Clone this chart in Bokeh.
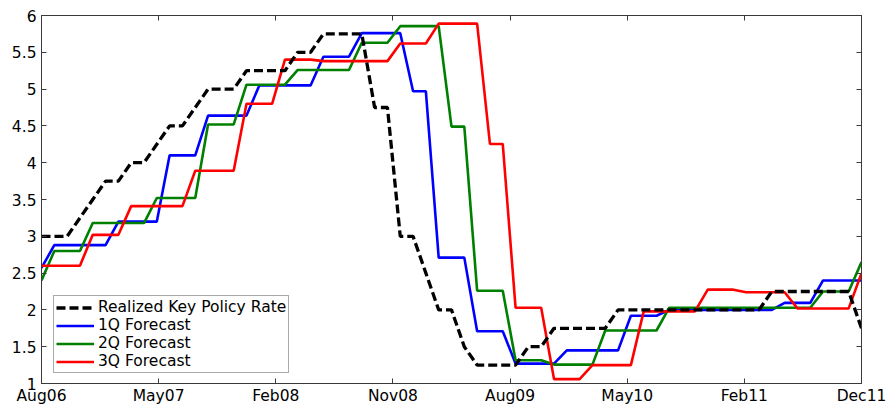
from bokeh.plotting import figure
from bokeh.models import (Range1d, FixedTicker, LinearAxis, CustomJSTickFormatter,
                          Legend, LegendItem, ColumnDataSource)
from bokeh.embed import file_html
from bokeh.resources import INLINE

# ---- data (monthly observations, Aug06 .. Dec11) ----
month_index = list(range(65))

realized = [3.0, 3.0, 3.0, 3.25, 3.5, 3.75, 3.75, 4.0, 4.0, 4.25,
            4.5, 4.5, 4.75, 5.0, 5.0, 5.0, 5.25, 5.25, 5.25, 5.25,
            5.5, 5.5, 5.75, 5.75, 5.75, 5.75, 4.75, 4.75, 3.0, 3.0,
            2.5, 2.0, 2.0, 1.5, 1.25, 1.25, 1.25, 1.25, 1.5, 1.5,
            1.75, 1.75, 1.75, 1.75, 1.75, 2.0, 2.0, 2.0, 2.0, 2.0,
            2.0, 2.0, 2.0, 2.0, 2.0, 2.0, 2.0, 2.25, 2.25, 2.25,
            2.25, 2.25, 2.25, 2.25, 1.75]

forecast_1q = [2.57, 2.88, 2.88, 2.88, 2.88, 2.88, 3.2, 3.2, 3.2, 3.2,
               4.1, 4.1, 4.1, 4.64, 4.64, 4.64, 4.64, 5.05, 5.05, 5.05,
               5.05, 5.05, 5.44, 5.44, 5.44, 5.76, 5.76, 5.76, 5.76, 4.97,
               4.97, 2.71, 2.71, 2.71, 1.71, 1.71, 1.71, 1.27, 1.27, 1.27,
               1.27, 1.45, 1.45, 1.45, 1.45, 1.45, 1.92, 1.92, 1.92, 2.0,
               2.0, 2.0, 2.0, 2.0, 2.0, 2.0, 2.0, 2.0, 2.095, 2.095,
               2.095, 2.4, 2.4, 2.4, 2.4]

forecast_2q = [2.4, 2.8, 2.8, 2.8, 3.18, 3.18, 3.18, 3.18, 3.18, 3.52,
               3.52, 3.52, 3.52, 4.52, 4.52, 4.52, 5.06, 5.06, 5.06, 5.06,
               5.26, 5.26, 5.26, 5.26, 5.26, 5.63, 5.63, 5.63, 5.855, 5.855,
               5.855, 5.855, 4.49, 4.49, 2.26, 2.26, 2.26, 1.315, 1.315, 1.315,
               1.257, 1.257, 1.257, 1.257, 1.72, 1.72, 1.72, 1.72, 1.72, 2.03,
               2.03, 2.03, 2.03, 2.03, 2.03, 2.03, 2.03, 2.03, 2.03, 2.03,
               2.03, 2.25, 2.25, 2.25, 2.65]

forecast_3q = [2.6, 2.6, 2.6, 2.6, 3.02, 3.02, 3.02, 3.41, 3.41, 3.41,
               3.41, 3.41, 3.89, 3.89, 3.89, 3.89, 4.8, 4.8, 4.8, 5.4,
               5.4, 5.4, 5.38, 5.38, 5.38, 5.38, 5.38, 5.38, 5.62, 5.62,
               5.62, 5.89, 5.89, 5.89, 5.89, 4.255, 4.255, 2.03, 2.03, 2.03,
               1.06, 1.06, 1.06, 1.25, 1.25, 1.25, 1.25, 1.98, 1.98, 1.98,
               1.98, 1.98, 2.275, 2.275, 2.275, 2.24, 2.24, 2.24, 2.24, 2.02,
               2.02, 2.02, 2.02, 2.02, 2.5]

series_labels = ["Realized Key Policy Rate", "1Q Forecast", "2Q Forecast", "3Q Forecast"]
x_tick_labels = ["Aug06", "May07", "Feb08", "Nov08", "Aug09", "May10", "Feb11", "Dec11"]
y_ticks = [1, 1.5, 2, 2.5, 3, 3.5, 4, 4.5, 5, 5.5, 6]

# ---- figure ----
FONT = "DejaVu Sans"
FSIZE = "15.5px"
AX_COLOR = "#3a3a3a"
n_last = month_index[-1]
x_ticks = [n_last * k / (len(x_tick_labels) - 1) for k in range(len(x_tick_labels))]

p = figure(width=887, height=407,
           x_range=Range1d(0, n_last), y_range=Range1d(1, 6),
           output_backend="svg", toolbar_location=None,
           x_axis_location=None, y_axis_location=None,
           min_border_left=41, min_border_top=15, min_border_right=26, min_border_bottom=22)
p.xgrid.visible = False
p.ygrid.visible = False
p.background_fill_color = "white"
p.border_fill_color = "white"
p.outline_line_color = AX_COLOR
p.outline_line_width = 1

xfmt = CustomJSTickFormatter(args=dict(labels=x_tick_labels, pos=x_ticks), code="""
    let best = 0, bd = 1e9;
    for (let i = 0; i < pos.length; i++) { const d = Math.abs(pos[i] - tick); if (d < bd) { bd = d; best = i; } }
    return labels[best];
""")
yfmt = CustomJSTickFormatter(code="return String(tick);")


def style_axis(ax, show_labels):
    ax.axis_line_color = AX_COLOR
    ax.major_tick_line_color = AX_COLOR
    ax.major_tick_in = 5
    ax.major_tick_out = 0
    ax.minor_tick_line_color = None
    ax.major_label_text_font = FONT
    ax.major_label_text_color = "black"
    if show_labels:
        ax.major_label_text_font_size = FSIZE
    else:
        ax.major_label_text_font_size = "1px"
        ax.major_label_text_color = None
        ax.major_label_standoff = 0


xb = LinearAxis(ticker=FixedTicker(ticks=x_ticks), formatter=xfmt)
style_axis(xb, True)
xb.major_label_standoff = 3
p.add_layout(xb, "below")

xt = LinearAxis(ticker=FixedTicker(ticks=x_ticks), formatter=xfmt)
style_axis(xt, False)
p.add_layout(xt, "above")

yl = LinearAxis(ticker=FixedTicker(ticks=y_ticks), formatter=yfmt)
style_axis(yl, True)
yl.major_label_standoff = 5
p.add_layout(yl, "left")

yr = LinearAxis(ticker=FixedTicker(ticks=y_ticks), formatter=yfmt)
style_axis(yr, False)
p.add_layout(yr, "right")

src = ColumnDataSource(dict(x=month_index, realized=realized,
                            f1=forecast_1q, f2=forecast_2q, f3=forecast_3q))

r1 = p.line("x", "f1", source=src, line_color="#0000FF", line_width=2.6)
r2 = p.line("x", "f2", source=src, line_color="#008000", line_width=2.6)
r3 = p.line("x", "f3", source=src, line_color="#FF0000", line_width=2.6)
r0 = p.line("x", "realized", source=src, line_color="black", line_width=3.3,
            line_dash="9 4")

legend = Legend(items=[LegendItem(label=series_labels[0], renderers=[r0]),
                       LegendItem(label=series_labels[1], renderers=[r1]),
                       LegendItem(label=series_labels[2], renderers=[r2]),
                       LegendItem(label=series_labels[3], renderers=[r3])],
                location=(12, 10))
legend.label_text_font = FONT
legend.label_text_font_size = FSIZE
legend.label_text_color = "black"
legend.glyph_width = 38
legend.glyph_height = 15
legend.label_height = 15
legend.label_standoff = 4
legend.spacing = -1
legend.padding = 2
legend.margin = 0
legend.border_line_color = "#555555"
legend.border_line_width = 1
legend.background_fill_color = "white"
legend.background_fill_alpha = 1.0
p.add_layout(legend)

open("out.html", "w").write(file_html(p, INLINE))
